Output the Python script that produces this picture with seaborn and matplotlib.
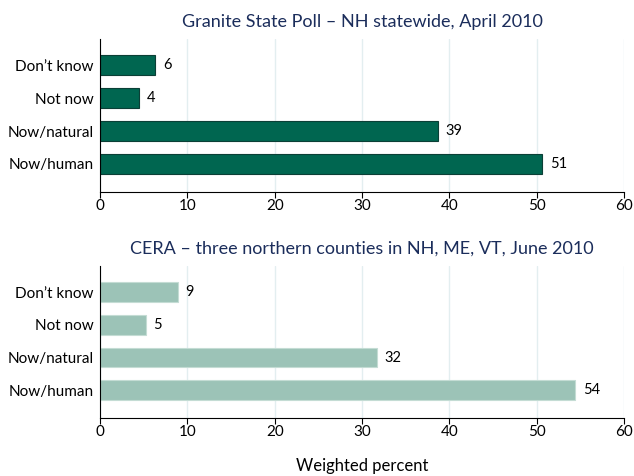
import numpy as np
import pandas as pd
import matplotlib.pyplot as plt
import seaborn as sns

# data
answers = ["Don\u2019t know", "Not now", "Now/natural", "Now/human"]
nh_poll = [6.3, 4.4, 38.7, 50.6]
cera_poll = [8.9, 5.2, 31.7, 54.4]
titles = ["Granite State Poll \u2013 NH statewide, April 2010",
          "CERA \u2013 three northern counties in NH, ME, VT, June 2010"]
xticks = [0, 10, 20, 30, 40, 50, 60]

sns.set_style("white")
plt.rcParams['font.family'] = ['Lato', 'DejaVu Sans']
plt.rcParams['text.color'] = 'black'
plt.rcParams['xtick.color'] = 'black'
plt.rcParams['ytick.color'] = 'black'
plt.rcParams['axes.labelcolor'] = 'black'

fig = plt.figure(figsize=(6.34, 4.76), dpi=100)
ax1 = fig.add_axes([0.158, 0.597, 0.826, 0.321])
ax2 = fig.add_axes([0.158, 0.122, 0.826, 0.319])

colors = ["#006650", "#9cc3b7"]
edges = ["#0b3f36", "#c4dcd4"]

for ax, vals, title, col, ec in zip([ax1, ax2], [nh_poll, cera_poll], titles, colors, edges):
    df = pd.DataFrame({"answer": answers, "pct": vals})
    sns.barplot(data=df, x="pct", y="answer", orient="h", color=col,
                edgecolor=ec, linewidth=0.8, width=0.6, saturation=1, ax=ax)
    for i, v in enumerate(vals):
        ax.text(v + 0.9, i, f"{v:.0f}", va="center", ha="left", fontsize=10.5, color="black")
    ax.set_xlim(0, 60)
    ax.set_ylim(3.85, -0.8)
    ax.set_xticks(xticks)
    ax.xaxis.grid(True, color="#e3eef0", linewidth=1)
    ax.set_axisbelow(True)
    for s in ["top", "right"]:
        ax.spines[s].set_visible(False)
    ax.spines["left"].set_color("black")
    ax.spines["bottom"].set_color("black")
    ax.spines["left"].set_linewidth(0.8)
    ax.spines["bottom"].set_linewidth(0.8)
    ax.tick_params(axis="x", bottom=True, length=4, width=0.8, labelsize=11, pad=1)
    ax.tick_params(axis="y", left=False, labelsize=11, pad=1)
    ax.set_ylabel("")
    ax.set_xlabel("")
    ax.set_title(title, fontsize=13, color="#1b2d5b", pad=9)

ax2.set_xlabel("Weighted percent", fontsize=12, labelpad=14)

fig.savefig("out.png", dpi=100)
